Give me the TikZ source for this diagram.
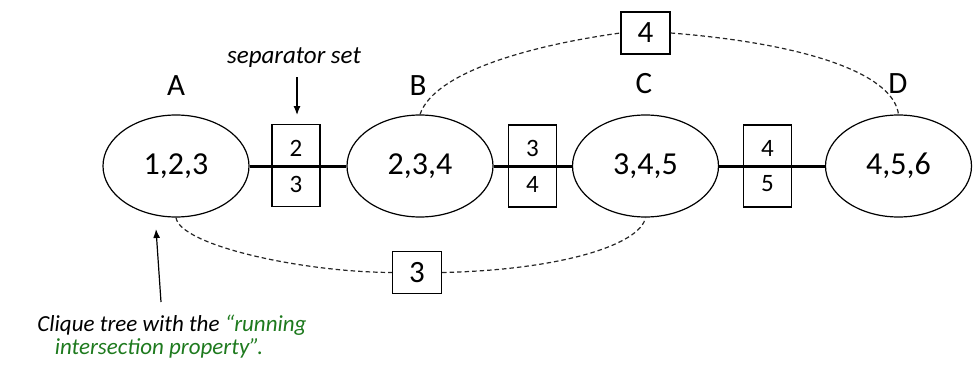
\documentclass[tikz,border=0pt]{standalone}
\usepackage{fontspec}
\setmainfont{Carlito}
\usetikzlibrary{arrows.meta,shapes.geometric}
\definecolor{cgreen}{RGB}{30,122,30}
\begin{document}
\begin{tikzpicture}[x=1pt,y=-1pt,
  clique/.style={draw, ellipse, minimum width=146pt, minimum height=102pt, inner sep=0pt, line width=1.2pt, font=\fontsize{32}{33}\selectfont},
  sepbox/.style={draw, rectangle, minimum width=48pt, minimum height=82pt, inner sep=0pt, line width=1.2pt},
  sepnum/.style={inner sep=0pt, font=\fontsize{25}{26}\selectfont},
  bigbox/.style={draw, rectangle, minimum width=49pt, minimum height=42pt, inner sep=0pt, line width=1.2pt, font=\fontsize{31}{32}\selectfont},
  letter/.style={inner sep=0pt, font=\fontsize{31}{32}\selectfont},
  tree/.style={line width=3pt},
  dashline/.style={dashed, dash pattern=on 4.5pt off 3pt, line width=1.2pt, black!85},
  arr/.style={line width=1.2pt, -{Latex[length=9pt,width=7pt]}},
  note/.style={inner sep=0pt, font=\fontsize{25}{27}\selectfont\itshape},
  capnote/.style={inner sep=0pt, font=\fontsize{23}{25}\selectfont\itshape}
]
\useasboundingbox (0,0) rectangle (974,369);

% cliques
\node[clique] (A) at (176,166) {1,2,3};
\node[clique] (B) at (420,166) {2,3,4};
\node[clique] (C) at (645.5,166) {3,4,5};
\node[clique] (D) at (898.5,166) {4,5,6};

% letters
\node[letter] (la) at (176,86) {A};
\node[letter] (lb) at (418,86) {B};
\node[letter] (lc) at (644,84) {C};
\node[letter] (ld) at (898,84) {D};

% separator boxes
\node[sepbox] (s1) at (296,165.5) {};
\node[sepbox] (s2) at (532.5,166) {};
\node[sepbox] (s3) at (767.5,166) {};
\node[sepnum] (s1a) at (296,148) {2};
\node[sepnum] (s1b) at (296,184) {3};
\node[sepnum] (s2a) at (532.5,148) {3};
\node[sepnum] (s2b) at (532.5,184) {4};
\node[sepnum] (s3a) at (767.5,148) {4};
\node[sepnum] (s3b) at (767.5,184) {5};

% tree edges
\draw[tree] (A.east) -- (B.west);
\draw[tree] (B.east) -- (C.west);
\draw[tree] (C.east) -- (D.west);

% extra separator boxes
\node[bigbox] (t4) at (645.5,33) {4};
\node[bigbox] (b3) at (417,272.5) {3};

% dashed curves
\draw[dashline] (B.north) .. controls (435,70) and (540,44) .. (t4.west);
\draw[dashline] (t4.east) .. controls (800,43) and (893,72) .. (D.north);
\draw[dashline] (A.south) .. controls (180,245) and (300,272) .. (b3.west);
\draw[dashline] (b3.east) .. controls (560,270) and (640,245) .. (C.south);

% annotations
\node[note] (sep) at (294,58) {separator set};
\coordinate (sepend) at (297,115);
\draw[arr] (297,77) -- (sepend);

\node[capnote] (cap1) at (172,325) {Clique tree with the \textcolor{cgreen}{“running}};
\node[capnote] (cap2) at (159,348) {\textcolor{cgreen}{intersection property”.}};
\coordinate (captip) at (156,229);
\draw[arr] (161,302) -- (captip);
\end{tikzpicture}
\end{document}
